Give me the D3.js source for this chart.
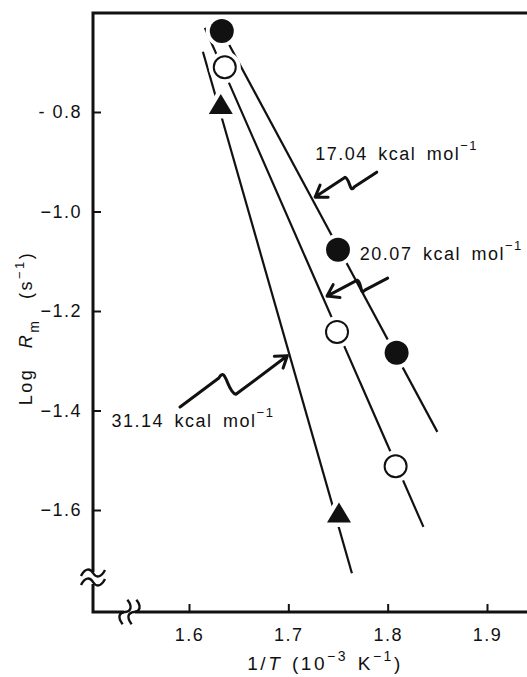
<!DOCTYPE html>
<html>
<head>
<meta charset="utf-8">
<script src="https://cdn.jsdelivr.net/npm/d3@7"></script>
<style>
  body { margin: 0; background: #fff; }
  svg { display: block; }
  text { font-family: "Liberation Sans", Arial, sans-serif; fill: #111; }
</style>
</head>
<body>
<svg width="527" height="677"></svg>
<script>
// values (x: 1/T in 1e-3 K^-1, y: log Rm)
var xTicks = [1.6, 1.7, 1.8, 1.9];
var yTicks = [-0.8, -1.0, -1.2, -1.4, -1.6];

var filledX = [1.633, 1.750, 1.809];
var filledY = [-0.637, -1.077, -1.284];
var openX = [1.636, 1.749, 1.808];
var openY = [-0.710, -1.242, -1.512];
var triX = [1.632, 1.751];
var triY = [-0.784, -1.605];

// fitted lines, end points
var fitFilled = [[1.633, -0.637], [1.850, -1.443]];
var fitOpen = [[1.616, -0.631], [1.836, -1.634]];
var fitTri = [[1.614, -0.679], [1.764, -1.727]];

// annotations: label position, arrow tail, arrow tip
var labels = ["17.04", "20.07", "31.14"];
var labelPos = [[1.727, -0.896], [1.772, -1.097], [1.522, -1.433]];
var arrowTail = [[1.789, -0.921], [1.800, -1.134], [1.591, -1.393]];
var arrowTip = [[1.727, -0.971], [1.739, -1.170], [1.699, -1.290]];

var svg = d3.select("svg");
var frame = {left: 93, top: 13, right: 527, bottom: 612};

var x = d3.scaleLinear().domain([1.6, 1.9]).range([189, 487]);
var y = d3.scaleLinear().domain([-1.6, -0.8]).range([510, 112]);

var line = d3.line().x(function(d) { return x(d[0]); }).y(function(d) { return y(d[1]); });

// frame with axis breaks
var axisG = svg.append("g").attr("stroke", "#111").attr("stroke-width", 3).attr("fill", "none");
axisG.append("path")
    .attr("d", "M" + frame.right + "," + frame.top + "H" + frame.left + "V572");
axisG.append("path")
    .attr("d", "M" + frame.left + ",584V" + frame.bottom + "H124");
axisG.append("path")
    .attr("d", "M135," + frame.bottom + "H" + frame.right);

// break marks
var brk = svg.append("g").attr("stroke", "#111").attr("stroke-width", 2.4).attr("fill", "none");
function tilde(cx, cy, rot) {
    brk.append("path")
        .attr("transform", "translate(" + cx + "," + cy + ") rotate(" + rot + ")")
        .attr("d", "M-12,3 C-8,-5 -3,-5 0,0 S8,5 12,-3");
}
tilde(frame.left, 573, 0);
tilde(frame.left, 582, 0);
tilde(125, frame.bottom, -65);
tilde(134, frame.bottom, -65);

// axes
var xAxis = d3.axisBottom(x).tickValues(xTicks).tickSize(-8).tickPadding(16)
    .tickFormat(d3.format(".1f"));
var gx = svg.append("g").attr("transform", "translate(0," + frame.bottom + ")").call(xAxis);
gx.select(".domain").remove();

var yAxis = d3.axisLeft(y).tickValues(yTicks).tickSize(-8).tickPadding(11)
    .tickFormat(function(d) { return d === -0.8 ? "- 0.8" : "\u2212" + Math.abs(d).toFixed(1); });
var gy = svg.append("g").attr("transform", "translate(" + frame.left + ",0)").call(yAxis);
gy.select(".domain").remove();

[gx, gy].forEach(function(g) {
    g.selectAll(".tick line").attr("stroke", "#111").attr("stroke-width", 2);
    g.selectAll(".tick text")
        .attr("fill", "#111")
        .style("font-family", "'Liberation Sans', Arial, sans-serif")
        .style("font-size", "18px")
        .style("letter-spacing", "1.5px");
});

// fitted lines
svg.append("g").attr("fill", "none").attr("stroke", "#111").attr("stroke-width", 2.2)
    .selectAll("path")
    .data([fitFilled, fitOpen, fitTri])
    .enter().append("path")
    .attr("d", line);

// white halo around markers so lines break there
var halo = svg.append("g").attr("fill", "#fff");
filledX.concat(openX).forEach(function(v, i) {
    var yy = i < 3 ? filledY[i] : openY[i - 3];
    halo.append("circle").attr("cx", x(v)).attr("cy", y(yy)).attr("r", 16);
});

function triPath(cx, cy) {
    return "M" + cx + "," + (cy - 10) + "L" + (cx + 12) + "," + (cy + 10) + "L" + (cx - 12) + "," + (cy + 10) + "Z";
}
halo.selectAll("path.t")
    .data(triX)
    .enter().append("path")
    .attr("d", function(d, i) { return triPath(x(d), y(triY[i])); })
    .attr("stroke", "#fff").attr("stroke-width", 9).attr("stroke-linejoin", "round");

// markers
svg.append("g").selectAll("circle")
    .data(filledX)
    .enter().append("circle")
    .attr("cx", function(d) { return x(d); })
    .attr("cy", function(d, i) { return y(filledY[i]); })
    .attr("r", 12)
    .attr("fill", "#111");

svg.append("g").selectAll("circle")
    .data(openX)
    .enter().append("circle")
    .attr("cx", function(d) { return x(d); })
    .attr("cy", function(d, i) { return y(openY[i]); })
    .attr("r", 11)
    .attr("fill", "#fff")
    .attr("stroke", "#111")
    .attr("stroke-width", 2);

svg.append("g").selectAll("path")
    .data(triX)
    .enter().append("path")
    .attr("d", function(d, i) { return triPath(x(d), y(triY[i])); })
    .attr("fill", "#111");

// squiggle arrows: straight run, a jog sideways, straight run to the head
function squiggle(tail, tip) {
    var x0 = x(tail[0]), y0 = y(tail[1]), x1 = x(tip[0]), y1 = y(tip[1]);
    var dx = x1 - x0, dy = y1 - y0, L = Math.sqrt(dx * dx + dy * dy);
    var ux = dx / L, uy = dy / L, nx = -uy, ny = ux;
    var jog = 0.2 * L;
    var jx = jog * nx, jy = jog * ny;
    var vx = dx - jx, vy = dy - jy; // run without the jog
    var ax = x0 + 0.40 * vx, ay = y0 + 0.40 * vy;
    var bx = ax + 0.07 * vx + jx, by = ay + 0.07 * vy + jy;
    var p = d3.path();
    p.moveTo(x0, y0);
    p.lineTo(ax, ay);
    p.bezierCurveTo(ax + 0.10 * vx - 0.25 * jx, ay + 0.10 * vy - 0.25 * jy,
                    bx - 0.06 * vx - 0.3 * jx, by - 0.06 * vy - 0.3 * jy,
                    bx, by);
    p.lineTo(x1, y1);
    // head
    var a = Math.atan2(-(y1 - by), -(x1 - bx)), hl = 13;
    p.moveTo(x1 + hl * Math.cos(a + 0.6), y1 + hl * Math.sin(a + 0.6));
    p.lineTo(x1, y1);
    p.lineTo(x1 + hl * Math.cos(a - 0.6), y1 + hl * Math.sin(a - 0.6));
    return p.toString();
}

svg.append("g").attr("fill", "none").attr("stroke", "#111").attr("stroke-width", 3)
    .attr("stroke-linecap", "round").attr("stroke-linejoin", "round")
    .selectAll("path")
    .data(arrowTail)
    .enter().append("path")
    .attr("d", function(d, i) { return squiggle(d, arrowTip[i]); });

// labels
var lab = svg.append("g").selectAll("text")
    .data(labels)
    .enter().append("text")
    .attr("x", function(d, i) { return x(labelPos[i][0]); })
    .attr("y", function(d, i) { return y(labelPos[i][1]); })
    .style("font-size", "18px")
    .style("letter-spacing", "1.5px")
    .style("word-spacing", "4px");
lab.append("tspan").text(function(d) { return d + " kcal mol"; });
lab.append("tspan").attr("dy", -10).style("font-size", "13px").text("\u22121");

// x title
var xt = svg.append("text")
    .attr("x", 325).attr("y", 670)
    .attr("text-anchor", "middle")
    .style("font-size", "19px")
    .style("letter-spacing", "2.5px")
    .style("word-spacing", "2px");
xt.append("tspan").text("1/");
xt.append("tspan").style("font-style", "italic").text("T");
xt.append("tspan").text(" (10");
xt.append("tspan").attr("dy", -9).style("font-size", "14px").text("\u22123");
xt.append("tspan").attr("dy", 9).text(" K");
xt.append("tspan").attr("dy", -9).style("font-size", "14px").text("\u22121");
xt.append("tspan").attr("dy", 9).text(")");

// y title
var yt = svg.append("text")
    .attr("transform", "translate(32,328) rotate(-90)")
    .attr("text-anchor", "middle")
    .style("font-size", "18px")
    .style("letter-spacing", "2.5px")
    .style("word-spacing", "12px");
yt.append("tspan").text("Log ");
yt.append("tspan").style("font-style", "italic").text("R");
yt.append("tspan").attr("dy", 7).style("font-size", "14px").text("m");
yt.append("tspan").attr("dy", -7).text(" (s");
yt.append("tspan").attr("dy", -8).style("font-size", "13px").text("\u22121");
yt.append("tspan").attr("dy", 8).text(")");
</script>
</body>
</html>
